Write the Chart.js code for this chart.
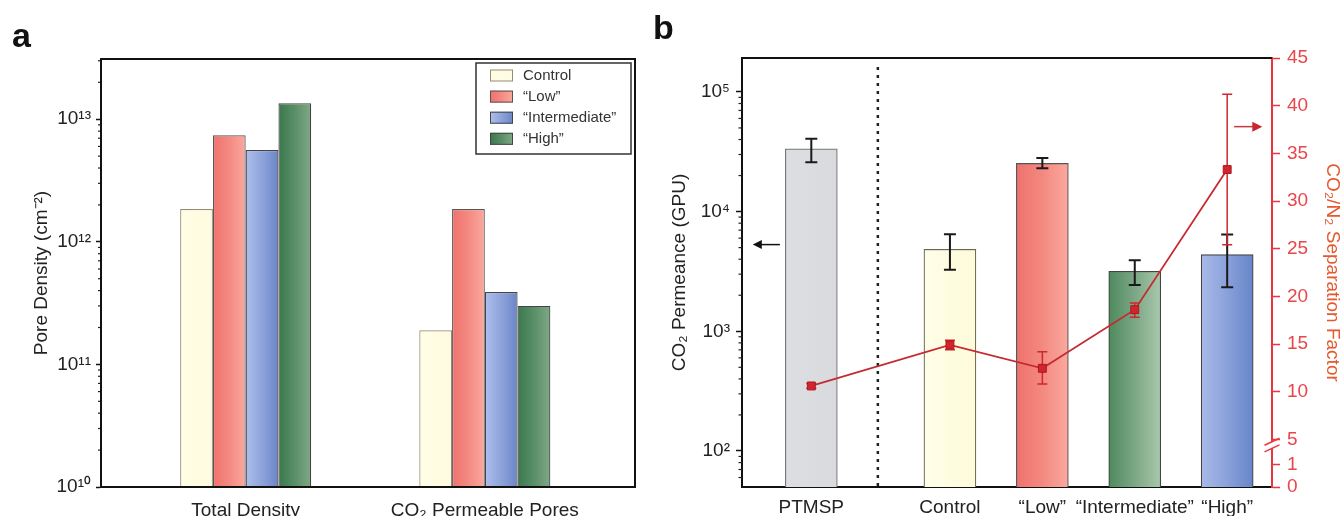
<!DOCTYPE html>
<html><head><meta charset="utf-8">
<script src="https://cdn.jsdelivr.net/npm/chart.js@4.4.1/dist/chart.umd.min.js"></script>
<style>
html,body{margin:0;padding:0;background:#fff;}
#wrap{position:relative;width:1344px;height:516px;overflow:hidden;background:#fff;}
#ca{position:absolute;left:0;top:0;}
#cb{position:absolute;left:655px;top:0;}
.pl{position:absolute;font:bold 34px "Liberation Sans",Arial,sans-serif;line-height:34px;color:#111;}
</style></head><body>
<div id="wrap">
<canvas id="ca" width="655" height="516"></canvas>
<canvas id="cb" width="689" height="516"></canvas>
<div class="pl" style="left:12px;top:18px;">a</div>
<div class="pl" style="left:653px;top:10px;">b</div>
</div>
<script>
// ---------- Panel a data ----------
const densityCategories = ['Total Density', 'CO₂ Permeable Pores'];
const densityCategoryPos = [0, 1];
const densitySeries = ['Control', '“Low”', '“Intermediate”', '“High”'];
const densityControl = [1.85e12, 1.9e11];
const densityLow = [7.4e12, 1.85e12];
const densityIntermediate = [5.6e12, 3.9e11];
const densityHigh = [1.35e13, 3.0e11];
const densityTicks = [1e10, 1e11, 1e12, 1e13];
const densityTickLabels = ['10¹⁰', '10¹¹', '10¹²', '10¹³'];

// ---------- Panel b data ----------
const membraneCategories = ['PTMSP', 'Control', '“Low”', '“Intermediate”', '“High”'];
const membranePositions = [0, 1.5, 2.5, 3.5, 4.5];
const permeance = [33400, 4840, 25300, 3170, 4370];
const permeanceErrLow = [25800, 3260, 23000, 2440, 2330];
const permeanceErrHigh = [40700, 6460, 28100, 3920, 6430];
const separationFactor = [10.6, 14.9, 12.45, 18.6, 33.3];
const separationErrLow = [10.35, 14.4, 10.8, 17.8, 25.4];
const separationErrHigh = [10.85, 15.4, 14.2, 19.3, 41.2];
const permeanceTicks = [1e2, 1e3, 1e4, 1e5];
const permeanceTickLabels = ['10²', '10³', '10⁴', '10⁵'];
const factorTicks = [0, 2.31, 5, 10, 15, 20, 25, 30, 35, 40, 45];
const factorTickLabels = ['0', '1', '5', '10', '15', '20', '25', '30', '35', '40', '45'];
const dividerPosition = 0.72;
const factorBreakPosition = 4.4;

// ---------- styles ----------
const FONT = '"Liberation Sans", Arial, Helvetica, sans-serif';
Chart.defaults.font.family = FONT;
Chart.defaults.color = '#222';

const densityGrad = [
  ['#fffde4', '#fffbe0'],
  ['#ef716d', '#f48a82', '#faa99f'],
  ['#aebfec', '#8ea3da', '#6a85c7'],
  ['#3a784d', '#5a8f68', '#80a887']
];
const densityBorder = ['#948c78', '#555', '#444', '#444'];

const membraneGrad = [
  ['#dddee1', '#d9dadd'],
  ['#fffee8', '#fdfbd9'],
  ['#ef726e', '#f38980', '#faa99f'],
  ['#4f8a5e', '#7ba785', '#a9c8ab'],
  ['#a9bae8', '#8aa1da', '#6685c8']
];
const membraneBorder = ['#777', '#6e6654', '#555', '#444', '#444'];

const gradientPlugin = {
  id: 'barGradient',
  beforeDatasetsDraw(chart, args, opts) {
    const ctx = chart.ctx;
    chart.data.datasets.forEach((ds, di) => {
      const meta = chart.getDatasetMeta(di);
      if (meta.type !== 'bar') return;
      meta.data.forEach((el, i) => {
        const stops = opts.stops(di, i);
        const l = el.x - el.width / 2, r = el.x + el.width / 2;
        const g = ctx.createLinearGradient(l, 0, r, 0);
        stops.forEach((c, k) => g.addColorStop(k / (stops.length - 1), c));
        el.options = Object.assign({}, el.options, {backgroundColor: g});
      });
    });
  }
};

const minorTicksPlugin = {
  id: 'minorTicks',
  afterDraw(chart, args, opts) {
    const s = chart.scales.y, ctx = chart.ctx;
    ctx.save();
    ctx.strokeStyle = opts.color; ctx.lineWidth = 1.2;
    const d0 = Math.floor(Math.log10(s.min)), d1 = Math.ceil(Math.log10(s.max));
    for (let d = d0; d <= d1; d++) {
      for (let m = 2; m <= 9; m++) {
        const v = m * Math.pow(10, d);
        if (v <= s.min || v >= s.max) continue;
        const y = s.getPixelForValue(v);
        ctx.beginPath(); ctx.moveTo(s.right, y); ctx.lineTo(s.right - opts.length, y); ctx.stroke();
      }
    }
    ctx.restore();
  }
};

// ---------- Panel a ----------
const densityValues = [densityControl, densityLow, densityIntermediate, densityHigh];

const frameLegendPlugin = {
  id: 'frameLegend',
  afterDraw(chart) {
    const ctx = chart.ctx, a = chart.chartArea;
    ctx.save();
    ctx.strokeStyle = '#111'; ctx.lineWidth = 2;
    ctx.strokeRect(a.left, a.top, a.right - a.left, a.bottom - a.top);
    // legend box
    const bw = 155, bh = 91;
    const bx = a.right - 4 - bw, by = a.top + 4;
    ctx.fillStyle = '#fff';
    ctx.fillRect(bx, by, bw, bh);
    ctx.strokeStyle = '#333'; ctx.lineWidth = 1.5;
    ctx.strokeRect(bx, by, bw, bh);
    ctx.font = '15px ' + FONT;
    ctx.textBaseline = 'middle';
    densitySeries.forEach((name, s) => {
      const cy = by + 12.5 + s * 21.1;
      const sx = bx + 14, sw = 23, sh = 12;
      const g = ctx.createLinearGradient(sx, 0, sx + sw, 0);
      const stops = densityGrad[s];
      stops.forEach((c, k) => g.addColorStop(k / (stops.length - 1), c));
      ctx.fillStyle = g;
      ctx.fillRect(sx, cy - sh / 2, sw, sh);
      ctx.strokeStyle = densityBorder[s]; ctx.lineWidth = 1;
      ctx.strokeRect(sx + 0.5, cy - sh / 2 + 0.5, sw - 1, sh - 1);
      ctx.fillStyle = '#333';
      ctx.fillText(name, bx + 47, cy);
    });
    ctx.restore();
  }
};

new Chart(document.getElementById('ca'), {
  type: 'bar',
  data: {
    datasets: densitySeries.map((name, s) => ({
      label: name,
      data: densityCategoryPos.map((x, i) => ({x: x, y: densityValues[s][i]})),
      backgroundColor: () => densityGrad[s][0],
      borderColor: densityBorder[s],
      borderWidth: 1.2,
      borderSkipped: 'bottom',
      categoryPercentage: 0.548,
      barPercentage: 1
    }))
  },
  options: {
    responsive: false, animation: false, events: [],
    layout: {padding: {top: 59, right: 20, left: 0, bottom: 0}},
    plugins: {
      legend: {display: false}, tooltip: {enabled: false},
      barGradient: {stops: (di, i) => densityGrad[di]},
      minorTicks: {length: 3, color: '#222'}
    },
    scales: {
      x: {
        type: 'linear', min: -0.605, max: 1.628, offset: false,
        grid: {display: false, drawTicks: false},
        border: {display: true, color: '#111', width: 2},
        afterBuildTicks: s => { s.ticks = densityCategoryPos.map(v => ({value: v})); },
        ticks: {callback: (v, i) => densityCategories[i], font: {size: 19}, color: '#222', padding: 12, maxRotation: 0, autoSkip: false},
        afterFit: s => { s.height = 29; }
      },
      y: {
        type: 'logarithmic', min: 1e10, max: 3.1e13,
        afterBuildTicks: s => { s.ticks = densityTicks.map(v => ({value: v})); },
        ticks: {callback: (v, i) => densityTickLabels[i], font: {size: 19}, color: '#222', padding: 5, autoSkip: false},
        grid: {display: true, drawOnChartArea: false, drawTicks: true, tickLength: 5, tickColor: '#111', tickWidth: 1.5},
        border: {display: true, color: '#111', width: 2},
        title: {display: true, text: 'Pore Density (cm⁻²)', font: {size: 19}, color: '#222', padding: {top: 30, bottom: 0}},
        afterFit: s => { s.width = 101; }
      }
    }
  },
  plugins: [gradientPlugin, minorTicksPlugin, frameLegendPlugin]
});

// ---------- Panel b ----------
const decorPlugin = {
  id: 'decorB',
  beforeDatasetsDraw(chart) {
    const ctx = chart.ctx, a = chart.chartArea, xs = chart.scales.x;
    ctx.save();
    const x = xs.getPixelForValue(dividerPosition);
    ctx.strokeStyle = '#222'; ctx.lineWidth = 2.5;
    ctx.setLineDash([3, 5]);
    ctx.beginPath(); ctx.moveTo(x, a.top + 9); ctx.lineTo(x, a.bottom); ctx.stroke();
    ctx.restore();
  },
  beforeDatasetDraw(chart, args) {
    if (args.index !== 1) return;
    const ctx = chart.ctx, xs = chart.scales.x, ys = chart.scales.y, y2 = chart.scales.y2;
    ctx.save();
    // black permeance error bars
    ctx.strokeStyle = '#1a1a1a'; ctx.lineWidth = 2;
    membranePositions.forEach((p, i) => {
      const x = xs.getPixelForValue(p);
      const t = ys.getPixelForValue(permeanceErrHigh[i]), b = ys.getPixelForValue(permeanceErrLow[i]);
      ctx.beginPath();
      ctx.moveTo(x, t); ctx.lineTo(x, b);
      ctx.moveTo(x - 6, t); ctx.lineTo(x + 6, t);
      ctx.moveTo(x - 6, b); ctx.lineTo(x + 6, b);
      ctx.stroke();
    });
    // red separation factor error bars
    ctx.strokeStyle = '#d0262d'; ctx.lineWidth = 1.5;
    membranePositions.forEach((p, i) => {
      const x = xs.getPixelForValue(p);
      const t = y2.getPixelForValue(separationErrHigh[i]), b = y2.getPixelForValue(separationErrLow[i]);
      ctx.beginPath();
      ctx.moveTo(x, t); ctx.lineTo(x, b);
      ctx.moveTo(x - 5, t); ctx.lineTo(x + 5, t);
      ctx.moveTo(x - 5, b); ctx.lineTo(x + 5, b);
      ctx.stroke();
    });
    ctx.restore();
  },
  afterDraw(chart) {
    const ctx = chart.ctx, a = chart.chartArea, xs = chart.scales.x, ys = chart.scales.y, y2 = chart.scales.y2;
    ctx.save();
    // top frame line
    ctx.strokeStyle = '#111'; ctx.lineWidth = 2;
    ctx.beginPath(); ctx.moveTo(a.left - 1, a.top); ctx.lineTo(a.right, a.top); ctx.stroke();
    // left arrow (points to left axis)
    const ly = ys.getPixelForValue(5300);
    const lx1 = xs.getPixelForValue(-0.34), lx0 = xs.getPixelForValue(-0.633);
    ctx.strokeStyle = '#111'; ctx.fillStyle = '#111'; ctx.lineWidth = 1.5;
    ctx.beginPath(); ctx.moveTo(lx1, ly); ctx.lineTo(lx0 + 6, ly); ctx.stroke();
    ctx.beginPath(); ctx.moveTo(lx0, ly); ctx.lineTo(lx0 + 9, ly - 4.5); ctx.lineTo(lx0 + 9, ly + 4.5); ctx.closePath(); ctx.fill();
    // right arrow (points to right axis)
    const ry = y2.getPixelForValue(37.8);
    const rx0 = xs.getPixelForValue(4.575), rx1 = xs.getPixelForValue(4.88);
    ctx.strokeStyle = '#c93a3e'; ctx.fillStyle = '#c5282e';
    ctx.beginPath(); ctx.moveTo(rx0, ry); ctx.lineTo(rx1 - 6, ry); ctx.stroke();
    ctx.beginPath(); ctx.moveTo(rx1, ry); ctx.lineTo(rx1 - 10, ry - 5); ctx.lineTo(rx1 - 10, ry + 5); ctx.closePath(); ctx.fill();
    // axis break marks on right axis
    const bx = y2.left, byc = y2.getPixelForValue(factorBreakPosition);
    ctx.fillStyle = '#fff';
    ctx.beginPath();
    ctx.moveTo(bx - 4, byc - 3.3 + 2); ctx.lineTo(bx + 4, byc - 3.3 - 2);
    ctx.lineTo(bx + 4, byc + 3.3 - 2); ctx.lineTo(bx - 4, byc + 3.3 + 2); ctx.closePath(); ctx.fill();
    ctx.strokeStyle = '#e8383d'; ctx.lineWidth = 1.5;
    [-3.3, 3.3].forEach(o => {
      ctx.beginPath(); ctx.moveTo(bx - 7.5, byc + o + 3.5); ctx.lineTo(bx + 7.5, byc + o - 3.5); ctx.stroke();
    });
    ctx.restore();
  }
};

new Chart(document.getElementById('cb'), {
  type: 'bar',
  data: {
    datasets: [
      {
        label: 'CO₂ Permeance',
        data: membranePositions.map((x, i) => ({x: x, y: permeance[i]})),
        backgroundColor: (c) => membraneGrad[c.dataIndex][0],
        borderColor: membraneBorder,
        borderWidth: 1.2,
        borderSkipped: 'bottom',
        barThickness: 52,
        order: 2,
        yAxisID: 'y'
      },
      {
        type: 'line',
        label: 'CO₂/N₂ Separation Factor',
        data: membranePositions.map((x, i) => ({x: x, y: separationFactor[i]})),
        borderColor: '#c62a30',
        borderWidth: 1.8,
        pointStyle: 'rect',
        pointRadius: 5.6,
        pointBackgroundColor: '#d1242b',
        pointBorderColor: '#a81b22',
        pointBorderWidth: 1,
        order: 1,
        yAxisID: 'y2'
      }
    ]
  },
  options: {
    responsive: false, animation: false, events: [],
    layout: {padding: {top: 58, right: 0, left: 0, bottom: 0}},
    plugins: {
      legend: {display: false}, tooltip: {enabled: false},
      barGradient: {stops: (di, i) => membraneGrad[i]},
      minorTicks: {length: 3.5, color: '#222'}
    },
    scales: {
      x: {
        type: 'linear', min: -0.75, max: 4.985, offset: false,
        grid: {display: false, drawTicks: false},
        border: {display: true, color: '#111', width: 2},
        afterBuildTicks: s => { s.ticks = membranePositions.map(v => ({value: v})); },
        ticks: {callback: (v, i) => membraneCategories[i], font: {size: 19}, color: '#222', padding: 9, maxRotation: 0, autoSkip: false},
        afterFit: s => { s.height = 29; }
      },
      y: {
        type: 'logarithmic', position: 'left', min: 50, max: 1.92e5,
        afterBuildTicks: s => { s.ticks = permeanceTicks.map(v => ({value: v})); },
        ticks: {callback: (v, i) => permeanceTickLabels[i], font: {size: 19}, color: '#222', padding: 6, autoSkip: false},
        grid: {display: true, drawOnChartArea: false, drawTicks: true, tickLength: 6, tickColor: '#111', tickWidth: 1.5},
        border: {display: true, color: '#111', width: 2},
        title: {display: true, text: 'CO₂ Permeance (GPU)', font: {size: 19}, color: '#222', padding: {top: 13, bottom: 0}},
        afterFit: s => { s.width = 87; }
      },
      y2: {
        type: 'linear', position: 'right', min: 0, max: 45,
        afterBuildTicks: s => { s.ticks = factorTicks.map(v => ({value: v})); },
        ticks: {callback: (v, i) => factorTickLabels[i], font: {size: 19}, color: '#e8464a', padding: 7, autoSkip: false},
        grid: {display: true, drawOnChartArea: false, drawTicks: true, tickLength: 8, tickColor: '#e8383d', tickWidth: 1.5},
        border: {display: true, color: '#e8383d', width: 2},
        title: {display: true, text: 'CO₂/N₂ Separation Factor', font: {size: 19}, color: '#e4592d', padding: {top: 0, bottom: 0}},
        afterFit: s => { s.width = 72; }
      }
    }
  },
  plugins: [gradientPlugin, minorTicksPlugin, decorPlugin]
});
</script>
</body></html>
